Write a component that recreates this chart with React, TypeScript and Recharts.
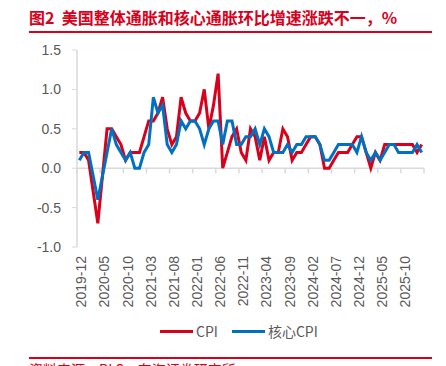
import { LineChart, Line, XAxis, YAxis, ReferenceLine, Legend } from 'recharts'

// monthly m/m change, %, 2019-12 .. 2026-02
const months = [
  '2019-12',
  '2020-01', '2020-02', '2020-03', '2020-04', '2020-05', '2020-06', '2020-07', '2020-08', '2020-09', '2020-10', '2020-11', '2020-12',
  '2021-01', '2021-02', '2021-03', '2021-04', '2021-05', '2021-06', '2021-07', '2021-08', '2021-09', '2021-10', '2021-11', '2021-12',
  '2022-01', '2022-02', '2022-03', '2022-04', '2022-05', '2022-06', '2022-07', '2022-08', '2022-09', '2022-10', '2022-11', '2022-12',
  '2023-01', '2023-02', '2023-03', '2023-04', '2023-05', '2023-06', '2023-07', '2023-08', '2023-09', '2023-10', '2023-11', '2023-12',
  '2024-01', '2024-02', '2024-03', '2024-04', '2024-05', '2024-06', '2024-07', '2024-08', '2024-09', '2024-10', '2024-11', '2024-12',
  '2025-01', '2025-02', '2025-03', '2025-04', '2025-05', '2025-06', '2025-07', '2025-08', '2025-09', '2025-10', '2025-11', '2025-12',
  '2026-01', '2026-02',
]

const cpi = [
  0.2,
  0.2, 0.1, -0.3, -0.7, -0.1, 0.5, 0.5, 0.4, 0.3, 0.1, 0.2, 0.2,
  0.2, 0.4, 0.6, 0.6, 0.7, 0.9, 0.5, 0.3, 0.4, 0.9, 0.7, 0.6,
  0.6, 0.7, 1.0, 0.5, 0.8, 1.2, 0.0, 0.2, 0.4, 0.5, 0.2, 0.1,
  0.5, 0.4, 0.1, 0.4, 0.1, 0.2, 0.2, 0.5, 0.4, 0.1, 0.2, 0.2,
  0.3, 0.4, 0.4, 0.3, 0.0, 0.0, 0.1, 0.2, 0.2, 0.2, 0.3, 0.4,
  0.4, 0.2, 0.0, 0.2, 0.1, 0.3, 0.3, 0.3, 0.3, 0.3, 0.3, 0.3,
  0.2, 0.3,
]

const coreCpi = [
  0.1,
  0.2, 0.2, -0.1, -0.4, -0.1, 0.2, 0.5, 0.3, 0.2, 0.1, 0.2, 0.0,
  0.0, 0.2, 0.3, 0.9, 0.7, 0.8, 0.3, 0.2, 0.3, 0.6, 0.5, 0.6,
  0.6, 0.5, 0.3, 0.5, 0.6, 0.6, 0.3, 0.6, 0.6, 0.3, 0.3, 0.4,
  0.4, 0.5, 0.3, 0.5, 0.4, 0.2, 0.2, 0.2, 0.3, 0.2, 0.3, 0.3,
  0.4, 0.4, 0.4, 0.3, 0.1, 0.1, 0.2, 0.3, 0.3, 0.3, 0.3, 0.2,
  0.4, 0.2, 0.1, 0.2, 0.1, 0.2, 0.3, 0.3, 0.2, 0.2, 0.2, 0.2,
  0.3, 0.2,
]

const yTicks = [-1, -0.5, 0, 0.5, 1, 1.5]
const labelIdx = [0, 5, 10, 15, 20, 25, 30, 35, 40, 45, 50, 55, 60, 65, 70]
const tickMarks = [-0.5, 4.5, 9.5, 14.5, 19.5, 24.5, 29.5, 34.5, 39.5, 44.5, 49.5, 54.5, 59.5, 64.5, 69.5, 74.5]

const RED = '#d9001b'
const BLUE = '#0070c0'
const GREY = '#595959'
const AXIS = '#d9d9d9'
const FONT = '"Liberation Sans", Arial, sans-serif'
const CJK = '"Noto Sans CJK SC", sans-serif'

const data = months.map((m, i) => ({ i, month: m, cpi: cpi[i], core: coreCpi[i] }))

const MonthTick = ({ x, y, payload }: any) => (
  <text
    x={0}
    y={0}
    transform={`translate(${x + 7},${y}) rotate(-90)`}
    textAnchor="end"
    fill={GREY}
    fontSize={14}
    fontFamily={FONT}
  >
    {months[payload.value]}
  </text>
)

const LegendContent = ({ payload }: any) => (
  <div style={{ display: 'flex', alignItems: 'center', height: 22, paddingLeft: 160, fontFamily: FONT, fontSize: 14, color: GREY }}>
    {(payload || []).map((p: any, k: number) => (
      <div key={k} style={{ display: 'flex', alignItems: 'center', marginRight: 14 }}>
        <span style={{ display: 'inline-block', width: 33, height: 3, background: p.color, marginRight: 3 }} />
        <span style={{ fontFamily: CJK }}>{p.value}</span>
      </div>
    ))}
  </div>
)

export default function App() {
  return (
    <div style={{ position: 'absolute', left: 0, top: 0, width: 446, height: 366, overflow: 'hidden', background: '#fff' }}>
      <div style={{ position: 'absolute', left: 29, top: 5, fontFamily: CJK, fontWeight: 700, fontSize: 16, color: RED, whiteSpace: 'nowrap' }}>
        图2&nbsp;&nbsp;美国整体通胀和核心通胀环比增速涨跌不一，%
      </div>
      <div style={{ position: 'absolute', left: 29, top: 31, width: 403, height: 2, background: RED }} />

      <LineChart width={446} height={366} data={data} margin={{ top: 50, right: 22, bottom: 24, left: 0 }}>
        <XAxis
          dataKey="i"
          type="number"
          domain={[-0.5, 74.5]}
          ticks={labelIdx}
          interval={0}
          axisLine={false}
          tickLine={false}
          tickSize={0}
          tickMargin={9}
          height={73}
          tick={<MonthTick />}
        />
        <YAxis
          domain={[-1, 1.5]}
          ticks={yTicks}
          width={77}
          axisLine={{ stroke: AXIS, strokeWidth: 1.5 }}
          tickLine={{ stroke: AXIS }}
          tickSize={5}
          tickMargin={11}
          tickFormatter={(v: number) => v.toFixed(1)}
          tick={{ fill: GREY, fontSize: 14, fontFamily: FONT }}
        />
        <ReferenceLine y={0} stroke={AXIS} strokeWidth={1.5} />
        {tickMarks.map((t) => (
          <ReferenceLine
            key={t}
            segment={[{ x: t, y: 0 }, { x: t, y: -0.065 }]}
            stroke={AXIS}
            strokeWidth={1.5}
          />
        ))}
        <Legend
          verticalAlign="bottom"
          content={<LegendContent />}
          wrapperStyle={{ left: 0, width: 446 }}
        />
        <Line name="CPI" dataKey="cpi" type="linear" stroke={RED} strokeWidth={3} dot={false} isAnimationActive={false} />
        <Line name="核心CPI" dataKey="core" type="linear" stroke={BLUE} strokeWidth={3} dot={false} isAnimationActive={false} />
      </LineChart>

      <div style={{ position: 'absolute', left: 29, top: 357, width: 403, height: 2, background: RED }} />
      <div style={{ position: 'absolute', left: 29, top: 361, fontFamily: CJK, fontSize: 14, color: RED, whiteSpace: 'nowrap', lineHeight: '16px' }}>
        资料来源：BLS，东海证券研究所
      </div>
    </div>
  )
}
